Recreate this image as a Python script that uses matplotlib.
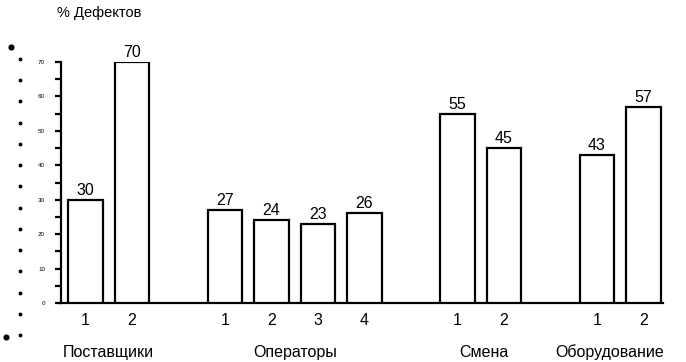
import matplotlib.pyplot as plt
import numpy as np
from matplotlib.lines import Line2D

plt.rcParams['font.family'] = ['Liberation Sans', 'DejaVu Sans']

groups = ['Поставщики', 'Операторы', 'Смена', 'Оборудование']
group_items = [['1', '2'], ['1', '2', '3', '4'], ['1', '2'], ['1', '2']]
values = [[30, 70], [27, 24, 23, 26], [55, 45], [43, 57]]

# lay bars out in slots, leaving one empty slot between groups
positions = []
slot = 0
for items in group_items:
    positions.append(list(range(slot, slot + len(items))))
    slot += len(items) + 1

fig = plt.figure(figsize=(6.86, 3.62), dpi=100)
ax = fig.add_axes([0.0889, 0.163, 0.8776, 0.6657])

ax.spines['right'].set_color('none')
ax.spines['top'].set_color('none')
ax.spines['left'].set_linewidth(1.6)
ax.spines['bottom'].set_linewidth(1.6)

for pos, vals in zip(positions, values):
    bars = ax.bar(pos, vals, width=0.75, color='white', edgecolor='black',
                  linewidth=1.6, zorder=3)
    for b, v in zip(bars, vals):
        ax.annotate(str(v), (b.get_x() + b.get_width() / 2, v),
                    xytext=(0, 1.5), textcoords='offset points',
                    ha='center', va='bottom', fontsize=11.5)

ax.set_xlim(-0.527, 12.42)
ax.set_ylim(0, 70)

all_pos = [p for pos in positions for p in pos]
all_items = [i for items in group_items for i in items]
ax.set_xticks(all_pos)
ax.set_xticklabels(all_items, fontsize=11.5)
ax.tick_params(axis='x', length=0, pad=7)

ax.set_yticks(np.arange(0, 71, 10))
ax.set_yticks(np.arange(5, 70, 10), minor=True)
ax.tick_params(axis='y', which='both', direction='out', length=4.5,
               width=1.6, labelsize=4.5, pad=7)

# group names under the item numbers; the last one is nudged left to fit
name_shift = [0, 0, 2, -8]
for name, pos, dx in zip(groups, positions, name_shift):
    ax.annotate(name, (np.mean(pos), 0), xycoords=('data', 'axes fraction'),
                xytext=(dx, -30), textcoords='offset points',
                ha='center', va='top', fontsize=11.5)

fig.text(99 / 686, 1 - 13 / 362, '% Дефектов', ha='center', va='center',
         fontsize=10.5)

# bullet column down the left edge
dot_y = np.linspace(59, 335, 14)
for y in dot_y:
    fig.add_artist(Line2D([19.5 / 686], [1 - y / 362], marker='o',
                          markersize=1.8, color='black',
                          transform=fig.transFigure))
for x, y in [(11, 47), (6, 337)]:
    fig.add_artist(Line2D([x / 686], [1 - y / 362], marker='o',
                          markersize=3.4, color='black',
                          transform=fig.transFigure))

fig.savefig('out.png', dpi=100)
